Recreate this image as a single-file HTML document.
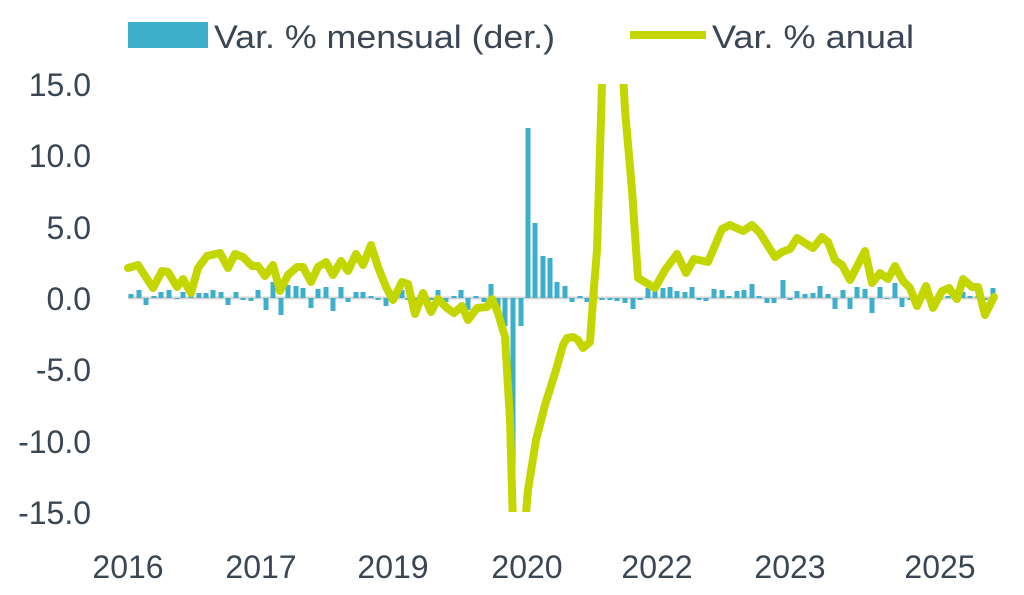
<!DOCTYPE html>
<html><head><meta charset="utf-8"><style>
body{margin:0;background:#fff}
svg text{font-family:"Liberation Sans",sans-serif;fill:#3b4654}
</style></head><body>
<svg width="1024" height="590" viewBox="0 0 1024 590" xmlns="http://www.w3.org/2000/svg">
<defs><clipPath id="c"><rect x="100" y="84" width="920" height="428"/></clipPath></defs>
<rect x="128" y="22" width="80" height="26" fill="#3BAFCB"/>
<text x="214" y="48" font-size="32" textLength="341" lengthAdjust="spacingAndGlyphs">Var. % mensual (der.)</text>
<line x1="630" y1="35" x2="706" y2="35" stroke="#C4D600" stroke-width="8"/>
<text x="712" y="48" font-size="32" textLength="202" lengthAdjust="spacingAndGlyphs">Var. % anual</text>
<g font-size="32" text-anchor="end">
<text x="91" y="96">15.0</text><text x="91" y="167">10.0</text><text x="91" y="239">5.0</text>
<text x="91" y="310">0.0</text><text x="91" y="381">-5.0</text><text x="91" y="453">-10.0</text><text x="91" y="524">-15.0</text>
</g>
<g font-size="32" text-anchor="middle">
<text x="128" y="578">2016</text><text x="261" y="578">2017</text><text x="393" y="578">2019</text>
<text x="527" y="578">2020</text><text x="657" y="578">2022</text><text x="790" y="578">2023</text><text x="940" y="578">2025</text>
</g>
<line x1="128" y1="298" x2="996" y2="298" stroke="#d4d4d4" stroke-width="3"/>
<g id="bars" fill="#3BAFCB" clip-path="url(#c)"></g>
<polyline clip-path="url(#c)" fill="none" stroke="#C4D600" stroke-width="8" stroke-linejoin="round" stroke-linecap="round" points="
128,268 138,265 153,288 162,271 168,272 177,287 183,279 191,293 198,268 207,256 220,253 228,268 235,254 243,257 252,266 258,266 265,276 273,265 280,291 288,275 297,267 303,267 311,282 318,267 326,262 333,275 341,261 348,271 356,254 363,265 371,245 378,267 386,287 393,300 402,282 408,284 415,314 423,293 431,312 438,299 447,308 454,313 462,306 468,320 477,308 487,307 492,299 498,313 505,337 510,420 514,560
522,560 528,490 536,440 545,405 556,370 563,345 567,338 573,337 578,340 583,348 590,342 593,300 597,250 600,150 604,20 620,20 625,110 632,190 638,278 655,288 665,270 677,254 686,273 694,259 708,262 722,229 730,225 743,231 752,225 760,233 775,257 782,252 790,249 797,238 813,248 822,237 828,242 835,260 842,265 850,280 865,251 872,283 880,273 888,279 895,266 903,281 910,288 917,306 926,286 933,308 942,291 949,288 957,299 963,279 972,287 978,287 985,315 994,297"/>
</svg>
<script>
var b=[[131,294],[139,290],[146,305],[154,296],[161,292],[169,290],[177,299],[183,292],[191,293],[199,293],[206,293],[213,290],[221,292],[228,305],[236,292],[243,300],[251,301],[258,290],[266,310],[273,282],[281,315],[288,285],[296,286],[303,288],[311,308],[318,289],[326,287],[333,311],[341,287],[348,302],[356,292],[363,292],[371,296],[378,300],[386,306],[393,296],[402,290],[408,300],[415,302],[423,290],[431,300],[438,290],[446,302],[454,296],[461,290],[468,310],[476,296],[484,302],[491,284],[498,312],[505,326],[513,512],[521,326],[528,128],[535,223],[543,256],[550,258],[557,282],[565,286],[572,302],[580,296],[587,302],[595,292],[602,300],[610,300],[617,301],[625,303],[633,309],[640,300],[648,288],[655,290],[663,288],[670,287],[677,291],[685,292],[692,287],[699,300],[706,301],[714,289],[722,290],[729,296],[737,291],[744,290],[752,284],[759,296],[767,303],[774,303],[783,280],[790,300],[797,291],[805,294],[813,293],[820,286],[828,294],[835,309],[843,290],[850,309],[857,287],[865,289],[872,313],[880,287],[887,299],[895,283],[902,307],[910,300],[917,308],[925,296],[933,310],[940,300],[948,296],[955,300],[963,292],[970,296],[978,296],[985,300],[993,288]];
var g=document.getElementById('bars'),s='';
b.forEach(function(p){var y0=Math.min(298,p[1]),h=Math.abs(298-p[1]);s+='<rect x="'+(p[0]-2.5)+'" y="'+y0+'" width="5" height="'+Math.max(h,1)+'"/>';});
g.innerHTML=s;
</script>
</body></html>
